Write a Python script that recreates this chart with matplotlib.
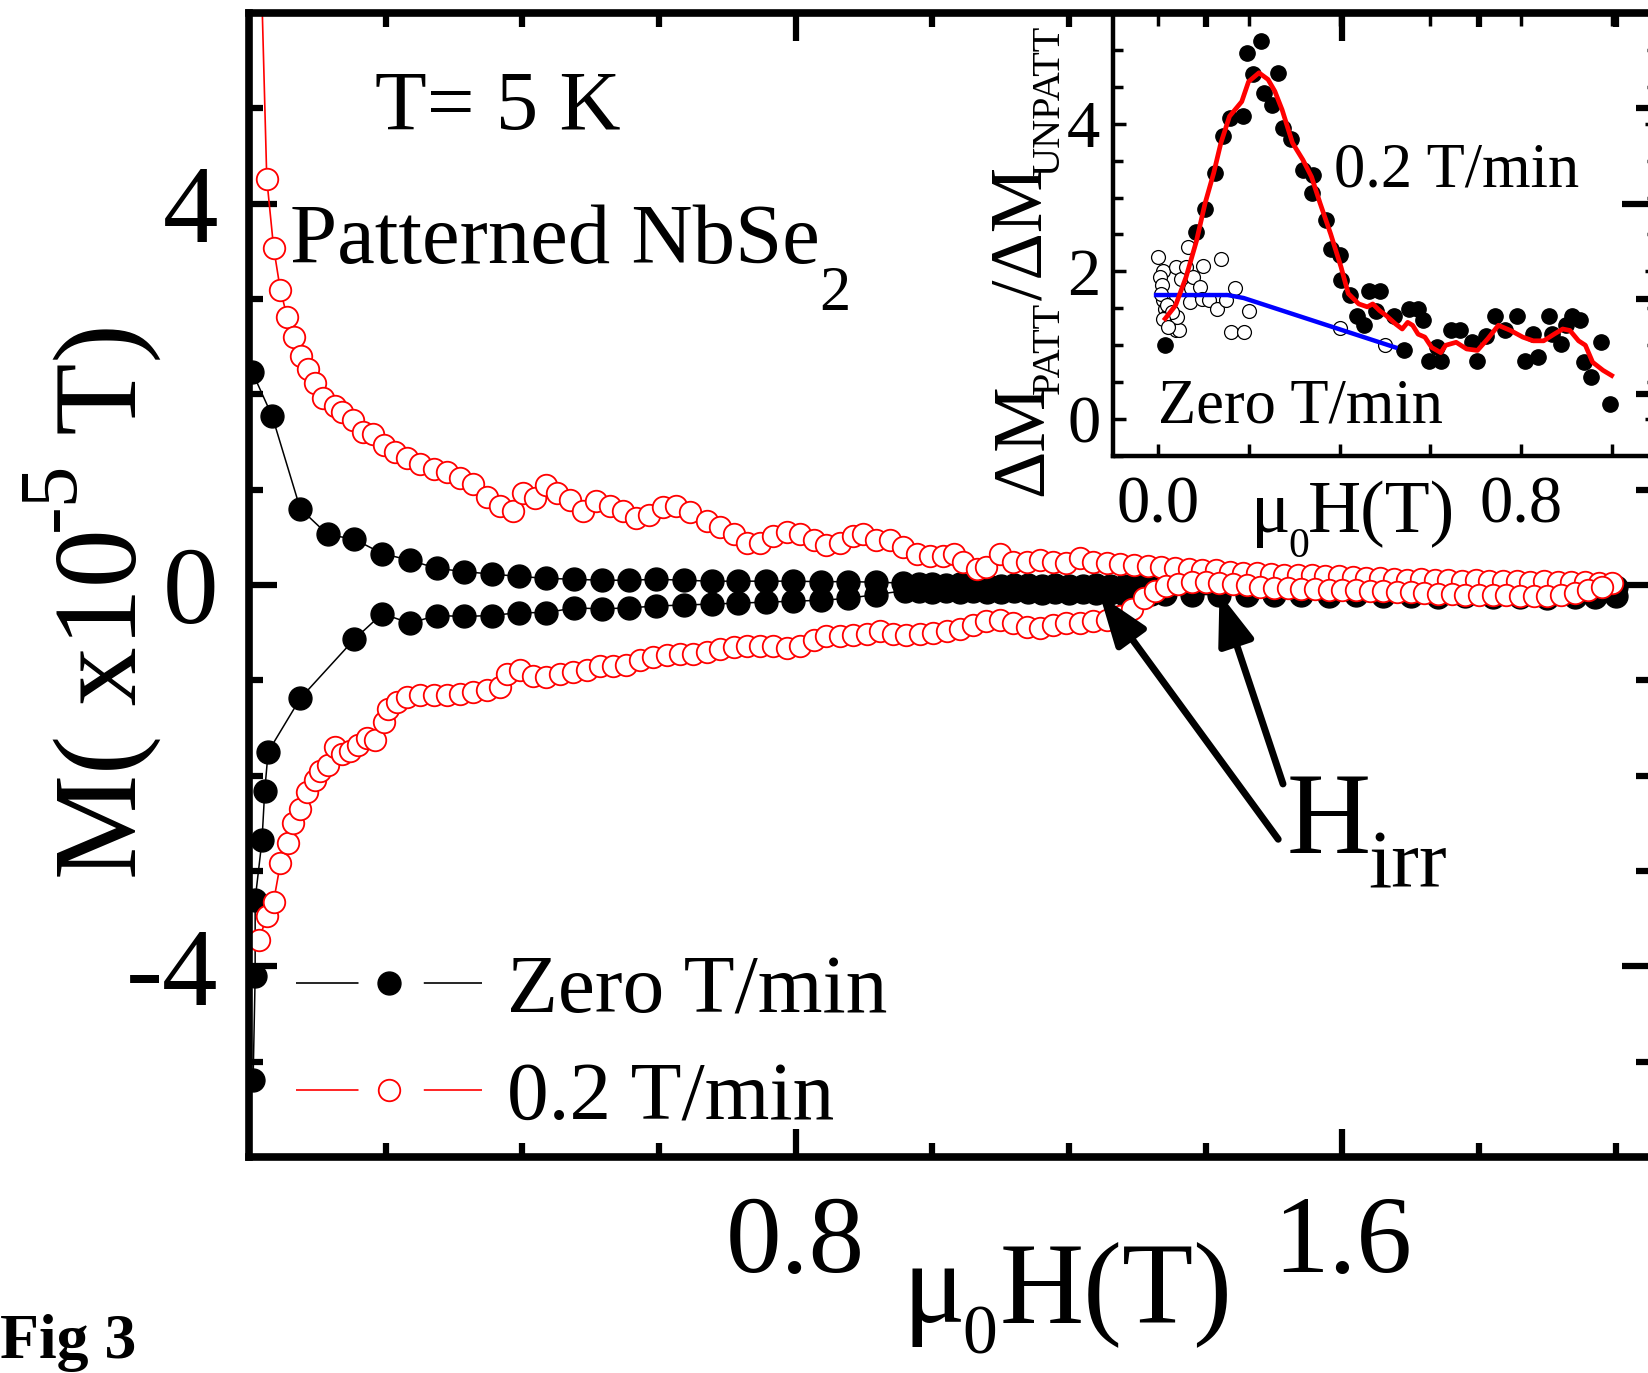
import numpy as np
import matplotlib
matplotlib.use('Agg')
import matplotlib.pyplot as plt
from matplotlib.lines import Line2D

plt.rcParams['font.family'] = 'Liberation Serif'
plt.rcParams['mathtext.fontset'] = 'custom'
plt.rcParams['mathtext.rm'] = 'Liberation Serif'
plt.rcParams['lines.scale_dashes'] = False

# --- main panel: M(H) loops, black = zero sweep rate, red = 0.2 T/min ---
zero_up_x = [0.005, 0.034, 0.075, 0.115, 0.154, 0.195, 0.235, 0.275, 0.315, 0.355,
             0.395, 0.435, 0.476, 0.516, 0.556, 0.596, 0.636, 0.677, 0.716, 0.756,
             0.796, 0.837, 0.877, 0.917, 0.957, 0.98, 1.00, 1.02, 1.04, 1.06,
             1.08, 1.10, 1.12, 1.14, 1.16, 1.18, 1.20, 1.22, 1.24, 1.26,
             1.28, 1.30, 1.32, 1.34, 1.38, 1.42, 1.46, 1.50, 1.54, 1.58,
             1.62, 1.66, 1.70, 1.74, 1.78, 1.82, 1.86, 1.90, 1.94, 1.97,
             2.00, 2.10]
zero_up_y = [2.23, 1.77, 0.80, 0.53, 0.48, 0.33, 0.26, 0.175, 0.14, 0.115,
             0.09, 0.07, 0.06, 0.05, 0.05, 0.06, 0.05, 0.04, 0.04, 0.04,
             0.04, 0.035, 0.035, 0.03, 0.02, 0.01, 0.01, 0.0, 0.01, 0.0,
             0.0, -0.01, 0.0, 0.0, -0.01, 0.0, -0.01, -0.01, 0.0, -0.01,
             -0.01, 0.0, -0.01, -0.01, 0.0, -0.01, 0.0, -0.02, -0.01, 0.0,
             -0.01, -0.02, -0.01, 0.0, -0.01, -0.02, -0.01, -0.02, -0.01, -0.02,
             -0.02, 0.0]

zero_dn_x = [0.006, 0.009, 0.009, 0.019, 0.023, 0.028, 0.075, 0.154, 0.195, 0.235,
             0.275, 0.315, 0.355, 0.395, 0.435, 0.476, 0.516, 0.556, 0.596, 0.636,
             0.677, 0.716, 0.756, 0.796, 0.837, 0.877, 0.917, 0.96, 0.98, 1.00,
             1.02, 1.04, 1.06, 1.08, 1.10, 1.12, 1.14, 1.16, 1.18, 1.20,
             1.22, 1.24, 1.26, 1.28, 1.30, 1.32, 1.34, 1.38, 1.42, 1.46,
             1.50, 1.54, 1.58, 1.62, 1.66, 1.70, 1.74, 1.78, 1.82, 1.86,
             1.90, 1.94, 1.97, 2.00]
zero_dn_y = [-5.19, -4.10, -3.30, -2.68, -2.16, -1.75, -1.19, -0.57, -0.30, -0.40,
             -0.32, -0.33, -0.32, -0.29, -0.29, -0.24, -0.25, -0.24, -0.22, -0.21,
             -0.20, -0.19, -0.18, -0.17, -0.16, -0.14, -0.10, -0.06, -0.06, -0.07,
             -0.06, -0.07, -0.06, -0.07, -0.07, -0.06, -0.07, -0.08, -0.07, -0.08,
             -0.07, -0.08, -0.08, -0.09, -0.08, -0.09, -0.09, -0.10, -0.10, -0.11,
             -0.10, -0.11, -0.12, -0.11, -0.12, -0.12, -0.13, -0.12, -0.13, -0.13,
             -0.14, -0.13, -0.13, -0.12]

fast_up_x = [0.012, 0.026, 0.036, 0.046, 0.056, 0.066, 0.076, 0.086, 0.096, 0.108,
             0.126, 0.136, 0.152, 0.167, 0.182, 0.197, 0.214, 0.231, 0.250, 0.270,
             0.289, 0.309, 0.328, 0.348, 0.367, 0.387, 0.401, 0.418, 0.435, 0.450,
             0.469, 0.489, 0.508, 0.528, 0.547, 0.567, 0.586, 0.606, 0.625, 0.645,
             0.670, 0.689, 0.709, 0.728, 0.748, 0.767, 0.787, 0.806, 0.826, 0.845,
             0.865, 0.884, 0.899, 0.918, 0.938, 0.957, 0.977, 0.996, 1.016, 1.031,
             1.045, 1.065, 1.079, 1.099, 1.118, 1.138, 1.157, 1.177, 1.196, 1.216,
             1.235, 1.255, 1.275, 1.295, 1.315, 1.335, 1.355, 1.375, 1.395, 1.415,
             1.435, 1.455, 1.475, 1.495, 1.515, 1.535, 1.555, 1.575, 1.595, 1.615,
             1.635, 1.655, 1.675, 1.695, 1.715, 1.735, 1.755, 1.775, 1.795, 1.815,
             1.835, 1.855, 1.875, 1.895, 1.915, 1.935, 1.955, 1.975, 1.995]
fast_up_y = [8.0, 4.26, 3.54, 3.09, 2.81, 2.60, 2.40, 2.27, 2.12, 1.96,
             1.88, 1.81, 1.73, 1.61, 1.58, 1.47, 1.40, 1.33, 1.27, 1.22,
             1.19, 1.12, 1.06, 0.92, 0.83, 0.78, 0.96, 0.91, 1.05, 0.96,
             0.89, 0.78, 0.88, 0.83, 0.78, 0.70, 0.73, 0.82, 0.83, 0.77,
             0.67, 0.61, 0.54, 0.44, 0.44, 0.51, 0.56, 0.54, 0.47, 0.42,
             0.44, 0.51, 0.54, 0.47, 0.47, 0.40, 0.33, 0.30, 0.30, 0.33,
             0.24, 0.17, 0.19, 0.32, 0.24, 0.24, 0.26, 0.24, 0.23, 0.28,
             0.24, 0.23, 0.22, 0.21, 0.20, 0.19, 0.18, 0.17, 0.16, 0.16,
             0.14, 0.13, 0.13, 0.12, 0.11, 0.11, 0.10, 0.09, 0.09, 0.08,
             0.07, 0.07, 0.06, 0.05, 0.06, 0.05, 0.05, 0.04, 0.05, 0.04,
             0.04, 0.04, 0.03, 0.04, 0.03, 0.03, 0.03, 0.02, 0.02]

fast_dn_x = [0.015, 0.026, 0.036, 0.046, 0.057, 0.065, 0.075, 0.085, 0.096, 0.104,
             0.116, 0.126, 0.136, 0.148, 0.160, 0.172, 0.185, 0.197, 0.204, 0.216,
             0.231, 0.250, 0.270, 0.289, 0.309, 0.328, 0.348, 0.367, 0.377, 0.396,
             0.416, 0.435, 0.455, 0.474, 0.494, 0.513, 0.533, 0.552, 0.572, 0.591,
             0.611, 0.630, 0.650, 0.670, 0.689, 0.709, 0.728, 0.748, 0.767, 0.787,
             0.806, 0.826, 0.845, 0.865, 0.884, 0.904, 0.923, 0.943, 0.962, 0.982,
             1.001, 1.021, 1.040, 1.060, 1.079, 1.099, 1.118, 1.138, 1.157, 1.177,
             1.196, 1.216, 1.235, 1.255, 1.275, 1.292, 1.309, 1.325, 1.342, 1.360,
             1.38, 1.40, 1.42, 1.44, 1.46, 1.48, 1.50, 1.52, 1.54, 1.56,
             1.58, 1.60, 1.62, 1.64, 1.66, 1.68, 1.70, 1.72, 1.74, 1.76,
             1.78, 1.80, 1.82, 1.84, 1.86, 1.88, 1.90, 1.92, 1.94, 1.96,
             1.98]
fast_dn_y = [-3.72, -3.47, -3.32, -2.92, -2.71, -2.50, -2.35, -2.17, -2.05, -1.95,
             -1.89, -1.70, -1.77, -1.74, -1.68, -1.61, -1.63, -1.44, -1.30, -1.23,
             -1.17, -1.15, -1.15, -1.15, -1.14, -1.12, -1.10, -1.07, -0.93, -0.89,
             -0.95, -0.96, -0.93, -0.91, -0.89, -0.85, -0.85, -0.84, -0.79, -0.76,
             -0.73, -0.72, -0.72, -0.70, -0.67, -0.65, -0.64, -0.64, -0.64, -0.66,
             -0.64, -0.58, -0.54, -0.53, -0.52, -0.51, -0.48, -0.51, -0.52, -0.51,
             -0.50, -0.48, -0.46, -0.42, -0.38, -0.37, -0.40, -0.44, -0.45, -0.42,
             -0.40, -0.40, -0.38, -0.37, -0.33, -0.25, -0.14, -0.06, -0.01, 0.01,
             0.03, 0.03, 0.02, 0.01, 0.0, -0.02, -0.03, -0.03, -0.04, -0.04,
             -0.05, -0.05, -0.05, -0.06, -0.06, -0.07, -0.07, -0.08, -0.09, -0.09,
             -0.10, -0.10, -0.11, -0.11, -0.12, -0.12, -0.12, -0.10, -0.08, -0.05,
             -0.02]

# --- inset: dM_patt / dM_unpatt ---
ins_fast_x = [0.015, 0.084, 0.103, 0.126, 0.142, 0.157, 0.186, 0.196, 0.209, 0.226,
              0.234, 0.250, 0.265, 0.276, 0.292, 0.319, 0.338, 0.342, 0.369, 0.380,
              0.400, 0.403, 0.423, 0.438, 0.454, 0.465, 0.480, 0.488, 0.519, 0.542,
              0.554, 0.573, 0.584, 0.596, 0.615, 0.623, 0.646, 0.665, 0.692, 0.704,
              0.723, 0.742, 0.765, 0.792, 0.808, 0.827, 0.838, 0.861, 0.869, 0.889,
              0.900, 0.912, 0.931, 0.939, 0.954, 0.977, 0.996]
ins_fast_y = [1.00, 2.54, 2.85, 3.33, 3.83, 4.08, 4.10, 4.96, 4.68, 5.12,
              4.42, 4.26, 4.69, 3.94, 3.80, 3.37, 3.06, 3.31, 2.69, 2.31,
              2.22, 1.88, 1.68, 1.40, 1.27, 1.74, 1.47, 1.74, 1.40, 0.93,
              1.49, 1.49, 1.34, 0.79, 0.97, 0.79, 1.20, 1.20, 1.04, 0.79,
              1.13, 1.40, 1.20, 1.40, 0.79, 1.15, 0.84, 1.40, 1.15, 1.02,
              1.27, 1.40, 1.34, 0.77, 0.57, 1.04, 0.20]

ins_zero_x = [0.000, 0.011, 0.003, 0.007, 0.011, 0.015, 0.017, 0.026, 0.038, 0.045,
              0.042, 0.038, 0.049, 0.061, 0.065, 0.072, 0.076, 0.069, 0.092, 0.099,
              0.096, 0.111, 0.130, 0.138, 0.149, 0.169, 0.161, 0.188, 0.199, 0.400,
              0.500, 0.005, 0.020, 0.030, 0.010, 0.022]
ins_zero_y = [2.20, 2.01, 1.92, 1.81, 1.61, 1.49, 1.38, 1.31, 1.20, 1.20,
              1.38, 2.06, 1.90, 2.06, 2.33, 1.77, 1.92, 1.58, 1.79, 2.08,
              1.63, 1.61, 1.49, 2.17, 1.61, 1.77, 1.18, 1.18, 1.47, 1.24,
              1.00, 1.70, 1.55, 1.45, 1.35, 1.25]

ins_fit_fast_x = [0.015, 0.038, 0.061, 0.084, 0.103, 0.122, 0.138, 0.157, 0.184, 0.199,
                  0.222, 0.242, 0.257, 0.273, 0.296, 0.319, 0.338, 0.357, 0.380, 0.403,
                  0.419, 0.442, 0.461, 0.473, 0.488, 0.503, 0.523, 0.538, 0.550, 0.561,
                  0.573, 0.588, 0.603, 0.623, 0.634, 0.657, 0.680, 0.704, 0.727, 0.750,
                  0.777, 0.804, 0.827, 0.850, 0.873, 0.892, 0.908, 0.927, 0.942, 0.958,
                  0.981, 1.000]
ins_fit_fast_y = [1.36, 1.54, 1.92, 2.41, 2.92, 3.33, 3.74, 4.10, 4.30, 4.57,
                  4.69, 4.60, 4.44, 4.19, 3.74, 3.51, 3.28, 2.92, 2.51, 2.06,
                  1.70, 1.56, 1.52, 1.56, 1.47, 1.40, 1.29, 1.22, 1.31, 1.27,
                  1.15, 1.11, 0.97, 0.90, 1.00, 1.04, 0.95, 0.93, 1.09, 1.27,
                  1.20, 1.11, 1.06, 1.06, 1.15, 1.22, 1.20, 1.06, 1.00, 0.77,
                  0.66, 0.59]

ins_fit_zero_x = [-0.005, 0.153, 0.188, 0.523]
ins_fit_zero_y = [1.68, 1.68, 1.64, 0.97]

W, H = 1648, 1373


def fx(x):
    return x / W


def fy(y):
    return 1 - y / H


fig = plt.figure(figsize=(16.48, 13.73), dpi=100)

# main axes (right spine falls just outside the picture, as in the scan)
ax = fig.add_axes([fx(249), fy(1157), fx(1650 - 249), (1157 - 13) / H])
ax.plot(zero_up_x, zero_up_y, '-o', color='black', lw=1.1, ms=16.5)
ax.plot(zero_dn_x, zero_dn_y, '-o', color='black', lw=1.1, ms=16.5)
ax.plot(fast_up_x, fast_up_y, '-o', color='red', lw=1.2, ms=15.5,
        mfc='white', mec='red', mew=1.3)
ax.plot(fast_dn_x, fast_dn_y, '-o', color='red', lw=1.2, ms=15.5,
        mfc='white', mec='red', mew=1.3)

ax.set_xlim(0, 2.05)
ax.set_ylim(-6, 6)
ax.set_xticks([0.8, 1.6], ['0.8', '1.6'])
ax.set_xticks([0.2, 0.4, 0.6, 1.0, 1.2, 1.4, 1.8, 2.0], minor=True)
ax.set_yticks([-4, 0, 4], ['-4', '0', '4'])
ax.set_yticks([-5, -3, -2, -1, 1, 2, 3, 5], minor=True)
ax.tick_params(which='both', direction='in', top=True, right=True, width=4.5)
ax.tick_params(which='major', length=20, labelsize=80)
ax.tick_params(which='minor', length=10)
ax.tick_params(axis='x', pad=28)
ax.tick_params(axis='y', pad=22)
for s in ax.spines.values():
    s.set_linewidth(5.5)

# legend with broken line around the marker
dash = (0, (45, 47, 45, 400))
h1 = Line2D([], [], color='black', lw=1.2, linestyle=dash, marker='o', ms=16.5)
h2 = Line2D([], [], color='red', lw=1.2, linestyle=dash, marker='o', ms=15.5,
            mfc='white', mec='red', mew=1.3)
ax.legend([h1, h2], ['Zero T/min', '0.2 T/min'], loc='upper left',
          bbox_to_anchor=(fx(296), fy(954)), bbox_transform=fig.transFigure,
          frameon=False, fontsize=60, handlelength=2.23, handletextpad=0.3,
          labelspacing=0.37, borderpad=0, borderaxespad=0, numpoints=1)

# H_irr arrows
arrow = dict(arrowstyle='-|>,head_length=1.4,head_width=0.5', lw=5, color='black',
             mutation_scale=22, shrinkA=0, shrinkB=0)
ax.annotate('', xy=(1.245, -0.105), xytext=(1.506, -2.667), arrowprops=arrow)
ax.annotate('', xy=(1.42, -0.087), xytext=(1.513, -2.087), arrowprops=arrow)

# texts of the main panel
fig.text(fx(375), fy(129.5), 'T= 5 K', fontsize=61, va='baseline')
fig.text(fx(290), fy(263.4), 'Patterned NbSe', fontsize=61, va='baseline')
fig.text(fx(819), fy(310), '2', fontsize=45, va='baseline')
fig.text(fx(1287), fy(853), 'H', fontsize=84, va='baseline')
fig.text(fx(1368), fy(888), 'irr', fontsize=60, va='baseline')

# x label  mu_0 H(T)
fig.text(fx(903), fy(1322), 'μ', fontsize=84, va='baseline')
fig.text(fx(962), fy(1353), '0', fontsize=50, va='baseline')
fig.text(fx(1000), fy(1322), 'H(T)', fontsize=84, va='baseline')

# y label  M( x10^-5 T)
rot = dict(rotation=90, rotation_mode='anchor', ha='left', va='baseline')
fig.text(fx(136), fy(879), 'M( x10', fontsize=85, **rot)
fig.text(fx(74), fy(531), '-5', fontsize=60, **rot)
fig.text(fx(136), fy(462), ' T)', fontsize=85, **rot)

fig.text(fx(0), fy(1358), 'Fig 3', fontsize=46, fontweight='bold', va='baseline')

# inset
axi = fig.add_axes([fx(1113), fy(456), fx(1657 - 1113), (456 - 13) / H])
axi.set_facecolor('none')
axi.plot(ins_zero_x, ins_zero_y, 'o', ms=10, mfc='white', mec='black', mew=0.9)
axi.plot(ins_fast_x, ins_fast_y, 'o', ms=11, color='black')
axi.plot(ins_fit_zero_x, ins_fit_zero_y, '-', color='blue', lw=3.2)
axi.plot(ins_fit_fast_x, ins_fit_fast_y, '-', color='red', lw=3.4)
axi.set_xlim(-0.1, 1.1)
axi.set_ylim(-0.5, 5.5)
axi.set_xticks([0.0, 0.8], ['0.0', '0.8'])
axi.set_xticks([0.2, 0.4, 0.6, 1.0], minor=True)
axi.set_yticks([0, 2, 4], ['0', '2', '4'])
axi.set_yticks([-0.5, 0.5, 1, 1.5, 2.5, 3, 3.5, 4.5, 5], minor=True)
axi.tick_params(which='both', direction='in', top=True, right=True, width=2.5)
axi.tick_params(which='major', length=9, labelsize=48)
axi.tick_params(which='minor', length=7)
axi.tick_params(axis='x', which='minor', length=9)
axi.tick_params(axis='x', pad=14)
axi.tick_params(axis='y', pad=9)
for s in axi.spines.values():
    s.set_linewidth(3.2)

axi.text(0.387, 3.15, '0.2 T/min', fontsize=45, va='baseline')
axi.text(0.0, -0.05, 'Zero T/min', fontsize=45, va='baseline')

fig.text(fx(1251), fy(532), 'μ', fontsize=53, va='baseline')
fig.text(fx(1288), fy(557), '0', fontsize=30, va='baseline')
fig.text(fx(1308), fy(532), 'H(T)', fontsize=53, va='baseline')

fig.text(fx(1042), fy(496), 'ΔM', fontsize=53, **rot)
fig.text(fx(1059), fy(394), 'PATT', fontsize=29, **rot)
fig.text(fx(1042), fy(300), '/ΔM', fontsize=53, **rot)
fig.text(fx(1059), fy(176), 'UNPATT', fontsize=29, **rot)

fig.savefig('out.png', dpi=100)
